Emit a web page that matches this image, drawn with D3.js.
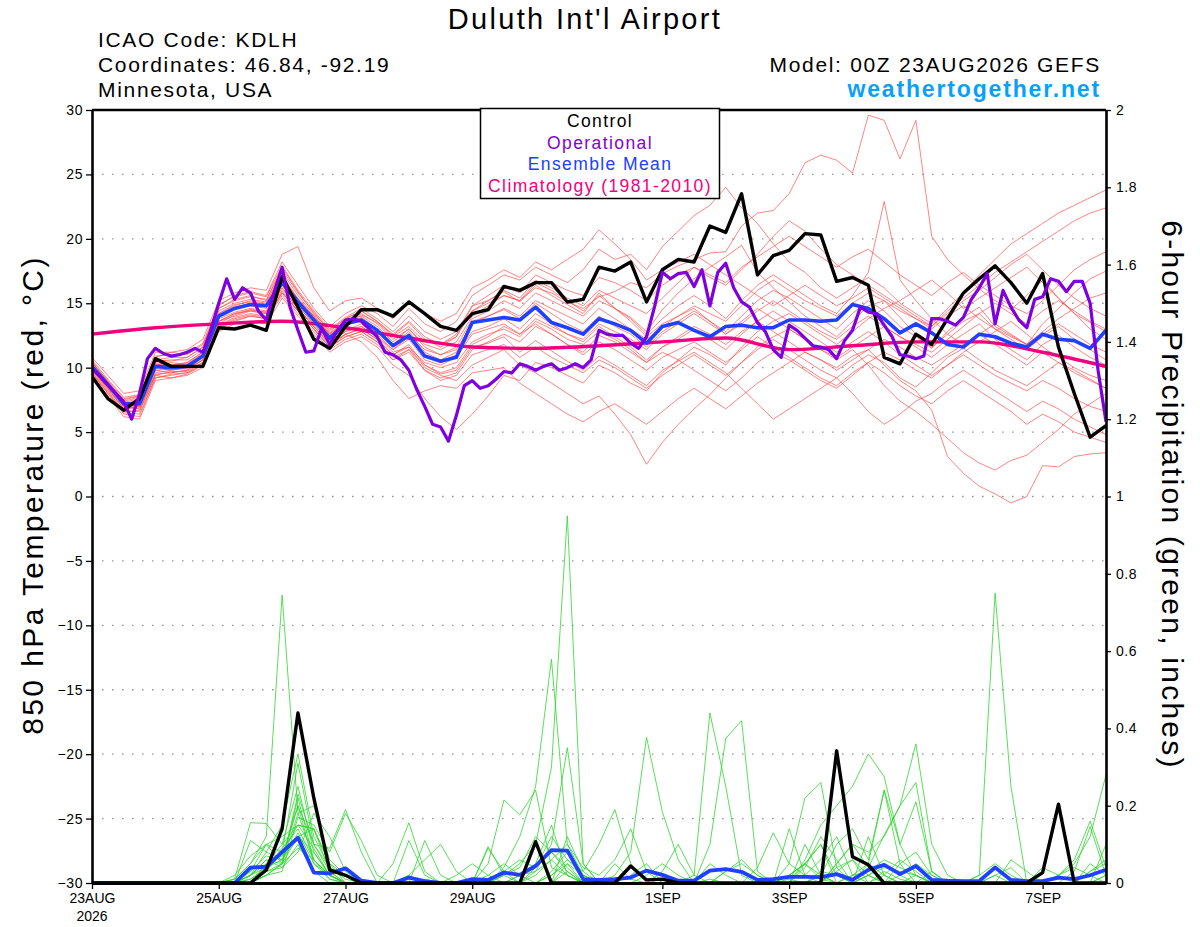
<!DOCTYPE html>
<html>
<head>
<meta charset="utf-8">
<script src="https://cdn.jsdelivr.net/npm/d3@7"></script>
<style>
  body { margin: 0; background: #fff; }
  text { font-family: "Liberation Sans", Arial, Helvetica, sans-serif; letter-spacing: 0.08em; }
</style>
</head>
<body>
<div id="chart"></div>
<script>
// ---- data (read off the GEFS plume) ----
// run start 00Z 23AUG2026, 6-hourly steps out to 384 h
const runStart = Date.UTC(2026, 7, 23, 0);
const dayTicks = ["2026-08-23", "2026-08-25", "2026-08-27", "2026-08-29", "2026-09-01", "2026-09-03", "2026-09-05", "2026-09-07"];
const dayLabels = ["23AUG", "25AUG", "27AUG", "29AUG", "1SEP", "3SEP", "5SEP", "7SEP"];
const tempTicks = [-30, -25, -20, -15, -10, -5, 0, 5, 10, 15, 20, 25, 30];
const precipTicks = [0, 0.2, 0.4, 0.6, 0.8, 1, 1.2, 1.4, 1.6, 1.8, 2];

// 850 hPa temperature, deg C, 6-hourly (65 values)
const controlTemp = [9.3,7.6,6.7,7.6,10.7,10.1,10.1,10.1,13.1,13.0,13.3,12.9,17.1,14.7,12.2,11.5,
  13.2,14.5,14.5,14.0,15.1,14.2,13.2,12.9,14.2,14.5,16.3,16.0,16.6,16.6,15.1,15.3,
  17.8,17.5,18.2,15.1,17.6,18.4,18.2,21.0,20.5,23.5,17.2,18.7,19.1,20.4,20.3,16.7,
  17.0,16.4,10.8,10.3,12.6,11.8,13.8,15.8,16.9,17.9,16.6,15.0,17.3,11.6,8.0,4.6,5.5];
const meanTemp = [10.1,8.7,7.2,7.2,10.1,10.0,10.1,10.9,14.0,14.6,14.9,14.8,16.6,15.1,13.7,12.3,
  13.4,13.7,12.9,11.7,12.5,10.9,10.5,10.8,13.5,13.7,13.9,13.7,14.7,13.5,13.1,12.6,
  13.8,13.4,12.9,11.9,13.2,13.5,12.9,12.4,13.2,13.3,13.1,13.1,13.7,13.7,13.6,13.7,
  14.9,14.6,13.8,12.7,13.4,12.7,11.8,11.6,12.6,12.4,11.9,11.6,12.6,12.2,12.1,11.5,12.9];
// operational run is 3-hourly (129 values)
const operTemp = [9.95,9.3,8.65,8.0,7.36,6.0,8.0,10.7,11.5,11.1,
  10.9,11.0,11.2,11.5,11.2,12.9,15.0,16.9,15.3,16.2,
  15.8,14.4,13.7,15.9,17.8,14.7,12.9,11.2,11.3,13.1,
  11.8,12.9,13.7,13.8,13.6,13.0,12.4,11.2,11.0,10.6,
  9.8,8.3,7.0,5.6,5.4,4.3,6.3,8.6,9.0,8.4,
  8.6,9.1,9.7,9.6,10.3,10.1,9.8,10.1,10.3,9.8,
  10.0,10.3,10.0,10.6,12.9,12.6,12.5,12.5,11.9,11.5,
  12.4,14.7,17.4,16.9,17.3,17.4,16.3,17.6,14.8,17.4,
  18.1,16.2,15.1,14.7,13.5,12.8,11.4,10.8,13.3,12.9,
  12.3,11.7,11.6,11.4,10.7,12.1,12.9,14.7,14.3,14.2,
  13.3,12.4,11.0,10.9,10.7,10.9,13.8,13.8,13.6,13.3,
  13.9,15.3,16.2,17.3,13.4,16.0,14.7,13.7,13.1,15.3,
  15.5,16.9,16.7,15.9,16.7,16.7,15.0,9.8,5.8];
// 1981-2010 climatology, one value per day (17 values)
const climTemp = [12.6,13.1,13.4,13.6,13.1,12.3,11.6,11.5,11.7,12.0,12.3,11.4,11.7,12.0,12.0,11.2,10.1];

// ensemble members, 850 hPa temperature
const tMem01 = [10.5,8.9,7.5,7.8,10.8,11.2,11.0,11.8,14.6,15.3,15.6,15.2,17.8,15.9,14.2,12.9,
  13.8,14.4,13.6,12.5,13.5,12.2,11.6,12.4,14.8,15.2,15.9,15.1,16.4,15.6,14.9,14.2,
  15.8,14.6,13.9,12.8,14.5,15.8,16.9,17.8,18.6,19.5,17.4,16.2,15.1,14.0,13.2,12.4,
  13.6,14.8,15.2,13.9,12.6,11.5,12.8,13.9,14.7,13.2,12.5,11.8,13.4,14.6,15.8,16.9,17.5];
const tMem02 = [9.8,8.3,6.8,6.9,9.5,9.6,9.8,10.4,13.4,14.1,14.5,14.3,16.2,14.6,13.2,11.8,
  12.6,13.0,12.2,11.0,11.8,10.2,9.5,9.8,11.6,11.9,12.4,11.2,12.1,11.3,10.5,9.8,
  10.9,10.2,9.4,8.6,9.8,10.5,11.2,10.4,9.6,8.4,7.2,6.0,6.8,7.6,8.4,9.2,
  10.2,11.0,10.4,9.2,8.5,9.6,10.8,11.5,10.6,9.8,9.2,8.6,9.5,10.4,9.8,9.1,8.4];
const tMem03 = [10.2,8.7,7.1,7.0,10.3,10.1,10.4,11.2,14.2,14.8,15.2,15.0,17.2,15.3,14.0,12.6,
  13.5,14.1,13.5,12.4,13.2,12.0,11.8,12.6,14.4,15.0,15.6,15.2,16.2,15.8,15.1,14.6,
  15.5,15.9,16.6,16.2,17.3,17.9,18.4,18.9,19.0,21.0,22.0,22.2,23.5,25.9,26.5,26.1,
  25.1,29.6,29.2,26.2,29.2,20.2,18.4,17.2,16.1,15.2,14.5,15.6,16.8,15.4,14.2,13.5,12.8];
const tMem04 = [9.6,8.0,6.5,6.4,9.2,9.4,9.6,10.2,13.0,13.6,14.0,13.8,15.8,14.4,13.0,11.6,
  12.4,12.8,12.0,10.6,11.2,9.8,9.2,9.6,11.4,12.0,12.6,12.0,13.2,12.6,11.8,11.2,
  12.5,12.0,11.2,10.4,11.6,12.4,13.2,12.6,11.8,12.8,13.6,12.8,12.0,11.2,10.6,10.0,
  10.9,11.4,10.2,9.0,8.2,6.7,3.1,1.8,0.8,0.2,-0.5,0.0,2.4,2.3,3.1,3.3,3.4];
const tMem05 = [10.0,8.6,7.2,7.4,10.0,9.8,10.0,10.8,13.8,14.3,14.6,14.4,16.4,14.8,13.4,12.0,
  12.8,13.2,12.4,11.2,11.6,10.0,9.4,9.0,10.2,10.8,11.4,10.2,9.6,8.8,8.0,7.2,
  7.8,6.4,4.8,2.5,4.2,5.6,6.8,7.9,9.2,10.4,11.6,12.4,13.0,12.2,11.4,10.8,
  11.6,12.4,13.2,12.4,11.6,10.8,11.8,12.6,13.4,12.2,11.4,10.6,11.8,12.5,11.6,10.8,10.2];
const tMem06 = [10.4,9.0,7.6,7.8,10.6,10.5,10.8,11.6,14.8,15.6,15.9,15.6,18.2,16.4,14.6,13.2,
  14.2,14.8,14.2,13.2,14.6,13.4,12.8,13.6,15.6,16.4,17.2,16.8,17.8,17.2,16.6,17.6,
  19.2,18.4,18.8,17.6,19.4,20.6,21.8,22.6,24.0,22.4,21.2,19.6,18.2,17.4,16.2,15.4,
  16.2,17.0,16.2,15.0,14.2,13.4,14.6,15.8,17.2,18.4,19.6,20.4,21.2,22.0,22.6,23.2,23.8];
const tMem07 = [10.1,8.6,7.0,7.3,10.2,10.4,10.2,11.0,14.0,14.6,14.8,14.6,16.8,15.2,13.8,12.5,
  13.4,13.9,13.0,11.8,12.8,11.2,10.6,11.2,13.6,14.0,14.5,13.8,15.0,14.2,13.4,12.8,
  14.0,13.2,12.6,11.6,12.8,13.6,14.4,13.6,12.8,14.0,15.2,16.0,15.4,14.6,13.8,13.0,
  14.2,15.2,14.4,13.2,12.4,11.6,12.6,13.6,14.2,13.0,12.2,11.4,12.4,13.2,12.2,11.4,10.6];
const tMem08 = [9.4,7.8,6.2,6.0,9.0,9.2,9.4,10.0,12.8,13.4,13.6,13.4,15.4,14.0,12.6,11.2,
  12.0,12.4,11.6,10.2,9.4,7.6,6.2,5.2,6.4,7.8,9.4,9.0,10.4,10.0,9.4,8.8,
  10.2,9.6,8.8,8.2,9.6,10.6,11.6,11.0,10.2,11.6,12.8,13.6,14.2,13.4,12.6,11.8,
  12.8,13.8,14.6,15.2,16.0,16.8,15.8,14.6,15.4,16.2,17.0,17.8,16.6,15.4,14.2,13.0,12.2];
const tMem09 = [10.3,8.8,7.3,7.6,10.5,10.6,10.6,11.4,14.4,15.0,15.3,15.1,17.4,15.6,14.1,12.7,
  13.6,14.2,13.4,12.2,13.0,11.6,11.0,11.6,13.8,14.4,15.2,14.6,15.8,15.2,14.6,14.0,
  15.2,14.6,13.8,12.6,13.8,14.8,15.6,14.8,13.8,15.2,16.4,17.2,16.4,15.6,14.8,14.2,
  15.6,17.4,22.9,16.8,15.2,13.8,12.6,11.8,12.6,13.4,12.6,11.8,12.8,13.8,14.6,15.4,15.8];
const tMem10 = [9.9,8.4,6.9,7.1,9.8,9.9,9.9,10.6,13.6,14.2,14.4,14.2,16.0,14.6,13.2,11.9,
  12.8,13.2,12.4,11.4,12.2,10.6,10.2,10.8,12.6,13.0,13.4,12.6,13.4,12.6,11.8,11.0,
  12.0,11.4,10.6,9.8,10.8,11.4,12.0,11.2,10.4,11.4,12.4,11.6,10.8,10.0,9.2,8.6,
  9.6,10.4,9.6,8.6,7.8,7.2,8.2,9.0,8.2,7.4,6.6,5.6,6.4,5.8,5.0,4.6,4.2];
const tMem11 = [10.6,9.1,7.7,7.9,10.9,11.0,11.1,11.9,14.9,15.5,15.8,15.5,17.9,16.0,14.4,13.0,
  13.9,14.6,13.8,12.8,14.0,12.8,12.2,12.8,14.8,15.6,16.4,15.8,17.2,16.6,16.0,15.6,
  17.0,16.6,16.0,15.2,16.4,17.2,17.8,17.2,16.6,17.8,18.6,19.4,20.2,19.4,18.6,17.8,
  18.6,19.2,18.2,17.2,16.4,15.6,16.6,17.4,16.4,15.6,14.8,14.2,15.2,16.4,17.6,18.4,19.0];
const tMem12 = [9.7,8.2,6.6,6.7,9.4,9.7,9.7,10.4,13.3,13.9,14.2,14.0,15.9,14.4,13.0,11.6,
  12.6,13.0,12.2,11.0,11.6,10.4,10.0,10.4,12.0,12.6,13.0,12.4,13.6,13.0,12.2,11.8,
  12.8,12.2,11.4,10.4,11.2,10.6,9.8,9.0,8.2,9.2,10.4,11.2,10.6,9.8,9.0,8.4,
  9.4,10.4,11.2,10.6,9.8,9.2,10.2,11.0,10.2,9.4,8.8,8.2,9.0,8.4,7.6,7.0,6.6];
const tMem13 = [10.8,9.4,8.0,8.2,11.2,11.2,11.4,12.2,15.2,15.8,16.2,16.0,18.8,19.4,16.2,14.4,
  15.2,15.4,14.6,13.8,15.2,14.2,13.6,14.2,16.2,16.8,17.6,17.0,18.2,17.6,18.4,19.2,
  20.7,19.6,18.4,16.8,17.6,18.2,18.8,18.0,17.2,16.4,15.6,14.8,15.6,16.4,15.6,14.8,
  15.4,16.2,15.4,14.6,13.8,13.0,14.0,14.8,13.8,13.0,12.4,11.8,12.6,13.4,12.6,11.8,11.2];
const tMem14 = [10.0,8.5,7.0,6.8,9.6,9.8,10.0,10.6,13.6,14.0,14.4,14.2,16.2,14.6,13.2,11.8,
  12.6,12.0,10.8,9.0,7.6,8.2,8.6,8.4,9.6,9.8,10.0,8.8,8.0,7.2,6.4,5.8,
  6.6,7.2,6.4,5.6,6.6,7.6,8.4,7.6,6.8,7.8,8.8,9.6,10.4,11.2,10.6,9.8,
  10.6,11.4,12.2,11.6,10.8,10.2,11.0,11.8,12.6,11.8,11.0,10.2,11.2,10.4,9.6,9.0,8.4];
const tMem15 = [10.2,8.8,7.2,7.5,10.4,10.2,10.4,11.2,14.2,14.9,15.1,14.9,17.0,15.4,14.0,12.6,
  13.6,14.0,13.2,12.0,13.0,11.8,11.4,12.0,14.0,14.8,15.6,15.2,16.6,16.0,15.2,14.4,
  15.6,14.6,13.6,12.4,13.4,14.0,14.6,13.6,12.6,13.4,14.4,15.2,14.4,13.6,12.8,12.2,
  13.2,14.0,13.2,12.4,11.8,11.2,12.2,13.2,14.2,15.0,14.2,13.4,14.4,15.2,14.4,13.6,13.0];
const tMem16 = [9.5,8.0,6.4,6.2,9.2,9.5,9.6,10.3,13.1,13.7,14.0,13.8,15.6,14.2,12.8,11.4,
  12.2,12.6,11.8,10.6,11.4,10.2,9.6,10.0,11.8,12.4,13.2,12.6,13.8,13.2,12.6,12.2,
  13.4,12.8,12.2,11.4,12.6,13.4,14.2,13.4,12.6,13.6,14.6,13.8,13.0,12.2,11.4,10.6,
  11.4,10.2,8.6,7.4,6.6,5.6,4.5,3.4,2.6,2.05,2.8,3.2,4.2,5.2,6.4,7.2,8.0];
const tMem17 = [10.4,8.9,7.4,7.7,10.6,10.8,10.8,11.6,14.6,15.2,15.5,15.3,17.6,15.8,14.3,12.8,
  13.8,14.4,13.6,12.6,13.6,12.4,11.8,12.4,14.4,15.2,16.0,15.4,16.8,16.2,15.4,14.8,
  16.0,15.4,14.8,14.2,15.4,16.6,17.8,17.0,16.4,17.6,18.8,20.2,21.4,20.6,19.2,18.0,
  17.2,16.4,15.6,14.8,14.0,13.2,14.2,15.2,16.0,17.0,18.0,18.8,17.6,16.4,15.4,14.6,14.0];
const tMem18 = [9.8,8.4,6.8,7.0,9.8,9.6,9.8,10.6,13.6,14.2,14.5,14.3,16.4,14.8,13.4,12.0,
  12.9,13.4,12.6,11.4,12.4,11.0,10.4,11.0,12.8,13.2,13.8,13.0,14.2,13.4,12.6,12.0,
  13.2,12.4,11.6,10.6,11.6,12.2,13.0,12.2,11.4,12.6,13.6,14.4,13.6,12.8,12.0,11.2,
  12.0,12.8,12.0,11.0,10.2,9.4,10.2,11.2,12.0,12.8,13.6,12.6,11.6,10.8,10.0,9.4,9.0];
const tMem19 = [10.1,8.6,7.1,7.2,10.1,10.2,10.3,11.1,14.1,14.7,15.0,14.8,16.9,15.3,13.9,12.5,
  13.4,13.8,13.0,11.8,12.6,11.4,11.0,11.4,13.4,14.0,14.6,14.0,15.2,14.6,14.0,13.4,
  14.6,13.8,13.0,12.2,13.2,14.0,14.8,14.2,13.6,14.8,16.0,16.8,16.0,15.2,14.6,14.0,
  15.0,15.8,15.2,14.4,13.8,13.2,14.4,15.4,16.4,17.4,18.2,19.0,19.8,20.6,21.4,22.0,22.4];
const tMem20 = [9.6,8.1,6.6,6.6,9.4,9.2,9.5,10.2,13.2,13.8,14.1,13.9,15.8,14.4,13.0,11.6,
  12.4,12.8,12.0,10.8,11.4,9.8,9.0,9.4,11.0,11.4,11.8,10.8,11.6,10.8,10.2,9.6,
  10.6,10.0,9.2,8.4,9.4,10.2,11.0,10.2,9.4,10.4,11.4,12.2,11.4,10.6,9.8,9.2,
  8.0,6.6,5.6,6.4,7.4,8.0,9.0,9.8,9.0,8.2,7.4,6.6,7.4,6.8,6.0,5.4,4.8];
const tempMembers = [tMem01, tMem02, tMem03, tMem04, tMem05, tMem06, tMem07, tMem08, tMem09, tMem10,
  tMem11, tMem12, tMem13, tMem14, tMem15, tMem16, tMem17, tMem18, tMem19, tMem20];

// 6-hour precipitation, inches (65 values each)
const controlPrecip = [0,0,0,0,0,0,0,0,0, 0,0,.034,.14,.44,.22,.034,.02, 0,0,0,0,0,0,0,0,
  0,0,0,.107,0,0,0,0, 0,.044,.008,.01,0,0,0,0, 0,0,0,0,0,0,.342,.068,
  .047,0,0,0,0,0,0,0, 0,0,0,.027,.204,0,0,0];
const meanPrecip = [0,0,0,0,0,0,0,0,0, 0,.04,.042,.08,.117,.027,.025,.038, .006,0,0,.014,.005,0,0,.01,
  .008,.027,.021,.044,.085,.084,.01,.008, .01,.014,.032,.021,.006,.006,.032,.036, .029,.008,.01,.016,.016,.015,.023,.008,
  .034,.047,.023,.044,.008,.006,.005,.005, .04,.008,.005,.005,.014,.01,.02,.034];
const pMem01 = [0,0,0,0,0,0,0,0,0, .01,.05,.12,.745,.18,.06,.02,0, 0,0,0,0,0,0,0,0, .02,.05,.02,0,.03,.08,.02,0, 0,0,0,.01,0,0,0,0, 0,0,0,.02,.05,.01,0,0, 0,.03,.01,0,0,0,0,0, 0,0,0,0,0,0,0,0];
const pMem02 = [0,0,0,0,0,0,0,0,0, 0,.02,.08,.15,.334,.12,.04,.01, 0,0,0,0,0,0,0,0, 0,.02,.05,.1,.3,.95,.05,0, 0,.02,.05,0,0,0,0,.03, .06,.02,0,0,.05,.1,0,0, 0,0,0,.02,0,0,0,0, 0,0,0,0,0,0,0,0];
const pMem03 = [0,0,0,0,0,0,0,0,0, 0,.03,.1,.08,.31,.1,.03,0, 0,0,0,0,0,0,0,0, 0,.04,.12,.25,.579,.1,.02,0, 0,0,0,0,0,0,0,0, 0,0,0,0,.04,.12,.06,0, .02,0,0,0,0,0,0,0, 0,0,0,0,0,0,0,.02];
const pMem04 = [0,0,0,0,0,0,0,0,0, 0,0,.05,.1,.25,.08,.02,0, 0,0,0,0,0,0,0,0, .09,.03,0,0,0,.05,0,0, .02,.08,.377,.184,.06,0,0,0, 0,0,0,0,0,0,.05,.1, .08,.12,.2,.36,.1,.02,0,0, 0,0,0,0,0,0,0,0];
const pMem05 = [0,0,0,0,0,0,0,0,0, 0,0,.02,.05,.23,.1,.04,.02, 0,0,0,0,0,0,.02,.05, .02,0,0,.03,.1,.35,.05,0, 0,0,0,0,0,.02,.44,.25, .02,0,0,.02,.05,.1,.02,0, 0,0,0,0,0,0,0,0, 0,0,0,0,0,.03,.146,.02];
const pMem06 = [0,0,0,0,0,0,0,0,0, 0,.02,.06,.05,.18,.2,.06,.02, 0,0,0,0,0,0,0,0, 0,0,0,.04,.08,.03,0,0, 0,0,0,0,0,0,.1,.374, .42,.03,0,.01,0,.03,.02,0, .02,.05,.02,0,0,0,0,0, 0,0,0,0,0,0,0,0];
const pMem07 = [0,0,0,0,0,0,0,0,0, 0,0,.03,.08,.15,.14,.05,0, 0,0,0,0,0,0,0,0, 0,0,.02,.05,.15,.02,0,0, 0,0,0,0,0,0,0,0, 0,0,0,.02,.05,.02,0,0, .02,.04,.03,.02,0,0,0,.02, .75,.25,0,0,0,0,.03,.05];
const pMem08 = [0,0,0,0,0,0,0,0,0, 0,.01,.04,.06,.2,.05,.01,0, 0,0,0,.02,0,0,0,0, 0,0,.02,.03,.06,.02,0,0, 0,0,0,0,0,0,0,0, 0,0,0,0,.06,.15,.2,.25, .334,.275,.1,.02,0,0,0,0, 0,0,0,0,.02,.05,.12,.28];
const pMem09 = [0,0,0,0,0,0,0,0,0, .01,.05,.1,.12,.15,.09,.02,0, 0,0,0,.11,.02,0,0,0, 0,0,0,0,0,.03,0,0, .05,.01,0,0,0,0,0,0, 0,0,0,.05,.22,.26,.04,0, 0,0,0,0,0,0,0,0, 0,0,0,0,0,0,0,0];
const pMem10 = [0,0,0,0,0,0,0,0,0, 0,.02,.05,.07,.2,.1,.09,.19, .08,0,.05,.156,.03,0,0,0, 0,0,0,0,0,0,0,0, 0,0,0,0,0,0,0,0, 0,0,0,0,0,0,0,0, 0,.02,.06,.03,0,0,0,0, 0,0,0,0,0,0,0,0];
const pMem11 = [0,0,0,0,0,0,0,0,0, 0,0,.02,.03,.17,.15,.08,.18, .11,.02,0,0,.11,.02,0,0, .05,.215,.176,.24,.04,.02,0,0, 0,0,0,0,0,0,.01,0, 0,0,0,0,0,0,0,0, .05,.24,.05,0,0,0,0,0, 0,0,0,0,0,0,0,0];
const pMem12 = [0,0,0,0,0,0,0,0,0, .01,.156,.154,.1,.15,.14,.05,.02, 0,0,0,0,0,0,0,0, 0,0,0,0,.02,.06,.03,.1, .19,.05,0,0,0,0,0,0, 0,0,0,0,0,0,0,0, .12,.02,0,0,.03,0,0,0, 0,0,0,0,0,0,0,0];
const pMem13 = [0,0,0,0,0,0,0,0,0, 0,.11,.08,.06,.12,.14,.03,0, 0,0,0,0,0,0,0,0, 0,0,0,.02,.06,.1,.04,.02, .06,.14,.03,0,0,0,.05,.02, 0,.04,.13,.05,.02,.06,.12,.02, 0,0,.02,.05,.02,0,0,0, 0,0,0,0,.02,.06,.16,.04];
const pMem14 = [0,0,0,0,0,0,0,0,0, 0,.02,.06,.04,.1,.03,0,0, 0,0,0,0,.01,0,0,0, 0,0,0,0,0,0,0,0, 0,0,0,0,0,0,0,0, 0,0,0,.14,.02,0,.05,.1, .04,.124,.2,.26,.03,0,0,0, 0,0,0,0,0,0,0,0];
const pMem15 = [0,0,0,0,0,0,0,0,0, 0,0,.02,.05,.12,.08,.02,0, 0,0,0,0,0,0,0,0, 0,.02,.04,.12,.08,.04,0,0, 0,0,0,0,0,0,0,0, 0,0,0,0,0,.02,.1,.14, .06,.24,.1,.21,.03,0,0,0, .02,.04,0,0,0,0,0,.1];
const pMem16 = [0,0,0,0,0,0,0,0,0, 0,.01,.03,.05,.09,.06,.02,0, 0,0,0,0,0,0,0,0, .094,.02,0,0,0,0,0,0, 0,0,0,0,0,0,0,.03, .05,.02,0,0,0,0,.03,.06, 0,0,0,0,0,0,0,0, 0,.06,.03,0,0,0,.05,.02];
const pMem17 = [0,0,0,0,0,0,0,0,0, 0,.02,.04,.09,.14,.06,.02,0, 0,0,0,.02,.06,.1,.03,0, 0,0,0,0,0,0,0,0, 0,0,0,0,0,0,0,0, 0,0,0,0,0,0,0,.02, .05,.02,0,0,0,0,0,0, 0,0,0,0,0,0,0,0];
const pMem18 = [0,0,0,0,0,0,0,0,0, .02,.07,.1,.05,.22,.06,.01,0, 0,0,0,0,0,0,0,0, 0,.03,.06,.04,.12,.06,.02,0, 0,0,.02,.05,.02,0,0,0, 0,0,0,0,.1,.02,0,0, 0,0,0,0,0,0,0,0, .02,0,0,.04,.02,0,0,.02];
const pMem19 = [0,0,0,0,0,0,0,0,0, 0,0,.03,.04,.08,.18,.12,.03, 0,0,0,0,0,0,0,0, 0,0,0,0,.02,.05,.02,0, 0,0,0,0,0,0,0,0, 0,0,0,0,0,.02,0,.02, .03,.06,.04,.02,0,0,0,.02, .05,.02,0,0,.02,.04,.02,0];
const pMem20 = [0,0,0,0,0,0,0,0,0, 0,.03,.07,.06,.13,.05,.02,0, 0,0,0,0,0,0,0,0, 0,0,0,0,0,.12,.03,0, 0,0,0,.03,.1,.02,0,0, 0,0,0,0,0,0,.04,.06, .02,0,.05,.08,.02,0,0,0, 0,0,0,0,0,0,.03,.06];
const precipMembers = [pMem01, pMem02, pMem03, pMem04, pMem05, pMem06, pMem07, pMem08, pMem09, pMem10,
  pMem11, pMem12, pMem13, pMem14, pMem15, pMem16, pMem17, pMem18, pMem19, pMem20];

// ---- layout ----
const margin = {top: 110, right: 94, bottom: 44, left: 92},
    width = 1200 - margin.left - margin.right,
    height = 927 - margin.top - margin.bottom;

const HOUR = 3600e3;
const times6 = controlTemp.map((d, i) => new Date(runStart + i * 6 * HOUR));
const times3 = operTemp.map((d, i) => new Date(runStart + i * 3 * HOUR));
const timesDay = climTemp.map((d, i) => new Date(runStart + i * 24 * HOUR));

const svg = d3.select("#chart")
  .append("svg")
    .attr("width", 1200)
    .attr("height", 927);

const g = svg.append("g")
    .attr("transform", "translate(" + margin.left + "," + margin.top + ")");

const x = d3.scaleUtc()
    .domain([new Date(runStart), new Date(runStart + 384 * HOUR)])
    .range([0, width]);
const yT = d3.scaleLinear().domain([-30, 30]).range([height, 0]);
const yP = d3.scaleLinear().domain([0, 2]).range([height, 0]);

g.append("clipPath").attr("id", "plotclip")
  .append("rect").attr("width", width).attr("height", height);

// dotted gridlines on the temperature ticks
g.append("g")
  .selectAll("line")
  .data(tempTicks.filter(t => t > -30 && t < 30))
  .join("line")
    .attr("x1", 0).attr("x2", width)
    .attr("y1", d => yT(d)).attr("y2", d => yT(d))
    .attr("stroke", "#9a9a9a")
    .attr("stroke-width", 1.4)
    .attr("stroke-dasharray", "1.6,8.4");

const plot = g.append("g").attr("clip-path", "url(#plotclip)");

const line6T = d3.line().x((d, i) => x(times6[i])).y(d => yT(d));
const line3T = d3.line().x((d, i) => x(times3[i])).y(d => yT(d));
const line6P = d3.line().x((d, i) => x(times6[i])).y(d => yP(d));
const lineClim = d3.line().x((d, i) => x(timesDay[i])).y(d => yT(d)).curve(d3.curveMonotoneX);

// ensemble members
plot.append("g").selectAll("path")
  .data(tempMembers)
  .join("path")
    .attr("d", line6T)
    .attr("fill", "none")
    .attr("stroke", "#ff4848")
    .attr("stroke-opacity", 0.85)
    .attr("stroke-width", 0.8);

plot.append("g").selectAll("path")
  .data(precipMembers)
  .join("path")
    .attr("d", line6P)
    .attr("fill", "none")
    .attr("stroke", "#2fd62f")
    .attr("stroke-width", 0.8);

// climatology, mean, control, operational
plot.append("path").datum(climTemp)
    .attr("d", lineClim).attr("fill", "none")
    .attr("stroke", "#f0007e").attr("stroke-width", 3.4);
plot.append("path").datum(meanTemp)
    .attr("d", line6T).attr("fill", "none")
    .attr("stroke", "#2040ff").attr("stroke-width", 3.6).attr("stroke-linejoin", "round");
plot.append("path").datum(controlTemp)
    .attr("d", line6T).attr("fill", "none")
    .attr("stroke", "#000").attr("stroke-width", 3.4).attr("stroke-linejoin", "round");
plot.append("path").datum(operTemp)
    .attr("d", line3T).attr("fill", "none")
    .attr("stroke", "#7f00df").attr("stroke-width", 3.2).attr("stroke-linejoin", "round");

plot.append("path").datum(meanPrecip)
    .attr("d", line6P).attr("fill", "none")
    .attr("stroke", "#2040ff").attr("stroke-width", 3.8).attr("stroke-linejoin", "round");
plot.append("path").datum(controlPrecip)
    .attr("d", line6P).attr("fill", "none")
    .attr("stroke", "#000").attr("stroke-width", 3.4).attr("stroke-linejoin", "round");

// ---- axes ----
const leftAxis = g.append("g")
    .call(d3.axisLeft(yT).tickValues(tempTicks).tickSize(6).tickSizeOuter(0).tickPadding(3));
leftAxis.select(".domain").attr("stroke-width", 2.6);
leftAxis.selectAll(".tick line").attr("stroke-width", 1.3);
leftAxis.selectAll("text").attr("font-size", 14).style("letter-spacing", "0.04em");

const rightAxis = g.append("g")
    .attr("transform", "translate(" + width + ",0)")
    .call(d3.axisRight(yP).tickValues(precipTicks).tickFormat(d3.format("~g"))
      .tickSize(5).tickSizeOuter(0).tickPadding(5));
rightAxis.select(".domain").attr("stroke-width", 2.6);
rightAxis.selectAll(".tick line").attr("stroke-width", 1.3);
rightAxis.selectAll("text").attr("font-size", 14).style("letter-spacing", "0.04em");

const parseDay = d3.utcParse("%Y-%m-%d");
const bottomAxis = g.append("g")
    .attr("transform", "translate(0," + height + ")")
    .call(d3.axisBottom(x).tickValues(dayTicks.map(parseDay))
      .tickFormat((d, i) => dayLabels[i]).tickSize(6).tickSizeOuter(0).tickPadding(4));
bottomAxis.select(".domain").attr("stroke-width", 3.2);
bottomAxis.selectAll(".tick line").attr("stroke-width", 1.3);
bottomAxis.selectAll("text").attr("font-size", 14).style("letter-spacing", "0");
bottomAxis.append("text")
    .attr("x", x(parseDay(dayTicks[0])))
    .attr("y", 38)
    .attr("fill", "#000")
    .attr("font-size", 14)
    .attr("text-anchor", "middle")
    .style("letter-spacing", "0")
    .text("2026");

// top frame line
g.append("line")
    .attr("x1", 0).attr("x2", width).attr("y1", 0).attr("y2", 0)
    .attr("stroke", "#000").attr("stroke-width", 2.4);

// axis titles
svg.append("text")
    .attr("transform", "translate(43,495) rotate(-90)")
    .attr("text-anchor", "middle")
    .attr("font-size", 30)
    .style("letter-spacing", "0.08em")
    .text("850 hPa Temperature (red, \u00B0C)");
svg.append("text")
    .attr("transform", "translate(1162,495) rotate(90)")
    .attr("text-anchor", "middle")
    .attr("font-size", 30)
    .style("letter-spacing", "0.075em")
    .text("6-hour Precipitation (green, inches)");

// ---- header ----
svg.append("text")
    .attr("x", 585).attr("y", 29)
    .attr("text-anchor", "middle")
    .attr("font-size", 29)
    .text("Duluth Int'l Airport");

const infoLines = ["ICAO Code: KDLH", "Coordinates: 46.84, -92.19", "Minnesota, USA"];
svg.append("g").selectAll("text")
  .data(infoLines)
  .join("text")
    .attr("x", 98)
    .attr("y", (d, i) => 47 + i * 25)
    .attr("font-size", 21)
    .text(d => d);

svg.append("text")
    .attr("x", 1101).attr("y", 72)
    .attr("text-anchor", "end")
    .attr("font-size", 21)
    .text("Model: 00Z 23AUG2026 GEFS");
svg.append("text")
    .attr("x", 1101).attr("y", 97)
    .attr("text-anchor", "end")
    .attr("font-size", 23)
    .attr("font-weight", "bold")
    .attr("fill", "#0aa0fa")
    .text("weathertogether.net");

// ---- legend ----
const legendItems = ["Control", "Operational", "Ensemble Mean", "Climatology (1981-2010)"];
const legendColors = ["#000", "#7f00df", "#2040ff", "#f0007e"];
const legend = svg.append("g");
legend.append("rect")
    .attr("x", 480.5).attr("y", 108.5)
    .attr("width", 239).attr("height", 90)
    .attr("fill", "#fff")
    .attr("stroke", "#000")
    .attr("stroke-width", 1.5);
legend.selectAll("text.item")
  .data(legendItems)
  .join("text")
    .attr("class", "item")
    .attr("x", 600)
    .attr("y", (d, i) => 127 + i * 21.6)
    .attr("text-anchor", "middle")
    .attr("font-size", 17.5)
    .attr("fill", (d, i) => legendColors[i])
    .text(d => d);
</script>
</body>
</html>
